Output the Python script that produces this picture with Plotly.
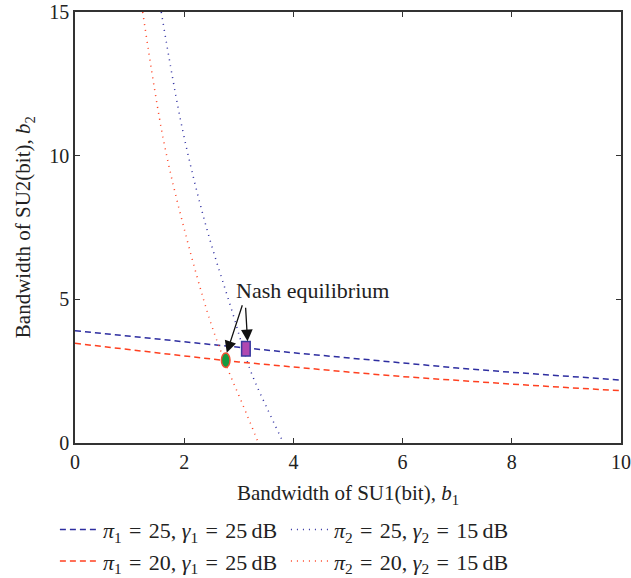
import plotly.graph_objects as go

# Dashed curves (SU1 best response): b1 grid and b2 values
b1_grid = [0, 1, 2, 3, 4, 5, 6, 7, 8, 9, 10]
b2_pi1_25 = [3.91, 3.71, 3.52, 3.33, 3.14, 2.96, 2.78, 2.61, 2.46, 2.32, 2.19]
b2_pi1_20 = [3.47, 3.24, 3.03, 2.82, 2.64, 2.47, 2.31, 2.17, 2.05, 1.93, 1.82]

# Dotted curves (SU2 best response)
b1_pi2_25 = [1.58, 1.97, 2.40, 2.87, 3.21, 3.52, 3.82]
b2_pi2_25 = [15.0, 10.9, 7.55, 4.63, 2.54, 1.2, 0.0]
b1_pi2_20 = [1.24, 1.62, 1.98, 2.47, 2.78, 3.08, 3.36]
b2_pi2_20 = [15.0, 10.55, 7.6, 4.28, 2.66, 1.3, 0.0]

# Nash equilibria
nash_a = (2.76, 2.88)   # pi=20 case (ellipse)
nash_b = (3.13, 3.28)   # pi=25 case (rectangle)

x_ticks = [0, 2, 4, 6, 8, 10]
y_ticks = [0, 5, 10, 15]

BLUE = "#2e2ea0"
RED = "#ff4020"
FONT = "Liberation Serif"
SP = "\u2004"

def lab(k, pi, db):
    return (f"<i>π</i><sub>{k}</sub>{SP}={SP}{pi}, "
            f"<i>γ</i><sub>{k}</sub>{SP}={SP}{db}\u2009dB")

fig = go.Figure()
fig.add_trace(go.Scatter(x=b1_grid, y=b2_pi1_25, mode="lines",
                         line=dict(color=BLUE, width=1.5, dash="6px,4px"),
                         name=lab(1, 25, 25)))
fig.add_trace(go.Scatter(x=b1_pi2_25, y=b2_pi2_25, mode="lines", line_shape="spline",
                         line=dict(color=BLUE, width=1.5, dash="1px,5px"),
                         name=lab(2, 25, 15)))
fig.add_trace(go.Scatter(x=b1_grid, y=b2_pi1_20, mode="lines",
                         line=dict(color=RED, width=1.5, dash="6px,4px"),
                         name=lab(1, 20, 25)))
fig.add_trace(go.Scatter(x=b1_pi2_20, y=b2_pi2_20, mode="lines", line_shape="spline",
                         line=dict(color=RED, width=1.5, dash="1px,5px"),
                         name=lab(2, 20, 15)))

# Nash markers as pixel-sized shapes anchored to data points
fig.add_shape(type="circle", xref="x", yref="y", xsizemode="pixel", ysizemode="pixel",
              xanchor=nash_a[0], yanchor=nash_a[1], x0=-4.3, x1=4.3, y0=-7.2, y1=7.2,
              fillcolor="#149a40", line=dict(color="#f05030", width=1.5))
fig.add_shape(type="rect", xref="x", yref="y", xsizemode="pixel", ysizemode="pixel",
              xanchor=nash_b[0], yanchor=nash_b[1], x0=-4.3, x1=4.3, y0=-7.2, y1=7.2,
              fillcolor="#b048b0", line=dict(color="#3a3aa0", width=1.5))

# Annotation arrows and text
fig.add_annotation(x=nash_a[0] + 0.02, y=nash_a[1] + 0.26, ax=16, ay=-49, xref="x", yref="y",
                   showarrow=True, arrowhead=2, arrowsize=1.8, arrowwidth=1.3,
                   arrowcolor="#111", text="")
fig.add_annotation(x=nash_b[0] + 0.03, y=nash_b[1] + 0.26, ax=-2, ay=-35, xref="x", yref="y",
                   showarrow=True, arrowhead=2, arrowsize=1.8, arrowwidth=1.3,
                   arrowcolor="#111", text="")
fig.add_annotation(x=2.92, y=4.81, xref="x", yref="y", xanchor="left", yanchor="bottom",
                   text="Nash equilibrium", showarrow=False,
                   font=dict(family=FONT, size=22, color="#222"))

# y-axis title as a rotated annotation
fig.add_annotation(x=-0.094, y=0.5, xref="paper", yref="paper", xanchor="center",
                   yanchor="middle", textangle=-90, showarrow=False,
                   text="Bandwidth of SU2(bit), <i>b</i><sub>2</sub>",
                   font=dict(family=FONT, size=21, color="#222"))

axis_common = dict(showline=True, linecolor="#333", linewidth=1.5, mirror="ticks",
                   ticks="inside", ticklen=5, tickcolor="#333", tickwidth=1.3,
                   showgrid=False, zeroline=False, automargin=False,
                   tickfont=dict(family=FONT, size=20, color="#222"))

fig.update_layout(
    width=631, height=578,
    margin=dict(l=75, r=10, t=12, b=135),
    paper_bgcolor="white", plot_bgcolor="white",
    xaxis=dict(range=[0, 10], tickvals=x_ticks,
               title=dict(text="Bandwidth of SU1(bit), <i>b</i><sub>1</sub>",
                          font=dict(family=FONT, size=21, color="#222"), standoff=14),
               **axis_common),
    yaxis=dict(range=[0, 15], tickvals=y_ticks, **axis_common),
    showlegend=True,
    legend=dict(orientation="h", xref="container", yref="container",
                x=0.087, y=0.12, xanchor="left", yanchor="top",
                itemwidth=38, entrywidth=178, entrywidthmode="pixels",
                font=dict(family=FONT, size=22, color="#222"),
                bgcolor="rgba(0,0,0,0)"),
)

fig.write_html("out.html", config={"displayModeBar": False},
               post_script="document.body.style.margin='0';")
